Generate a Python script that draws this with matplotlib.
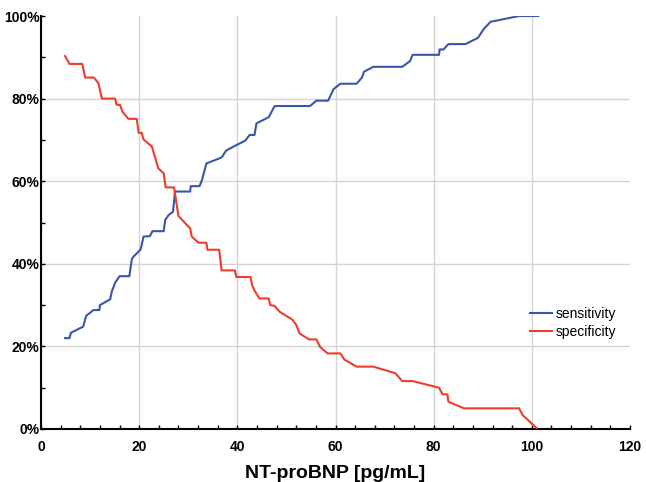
import matplotlib
matplotlib.use("Agg")
import matplotlib.pyplot as plt
from matplotlib.ticker import MultipleLocator, FuncFormatter

plt.rcParams['font.family'] = ['Liberation Sans', 'DejaVu Sans']

# Sensitivity curve (x: NT-proBNP pg/mL, y: %)
sens_x = [4.9, 5.8, 6.1, 8.6, 9.2, 10.7, 11.9, 12.0, 14.1, 14.4, 15.1, 16.0, 18.0, 18.5, 18.8,
          19.5, 20.3, 20.9, 22.2, 22.7, 25.0, 25.3, 26.0, 26.9, 27.3, 30.4, 30.5, 32.3, 32.8,
          33.7, 36.5, 36.9, 37.7, 39.4, 41.6, 42.5, 43.5, 43.9, 46.4, 47.6, 54.8, 56.1, 58.5,
          59.6, 61.0, 64.3, 65.4, 65.8, 67.7, 73.6, 75.2, 75.7, 81.1, 81.2, 82.0, 83.0, 86.5,
          89.0, 90.3, 91.6, 97.4, 101.3]
sens_y = [22.0, 22.0, 23.3, 24.8, 27.4, 28.8, 28.8, 30.0, 31.4, 33.2, 35.4, 37.0, 37.0, 41.1, 41.7,
          42.5, 43.5, 46.6, 46.7, 47.9, 47.9, 50.6, 51.8, 52.6, 57.5, 57.5, 58.8, 58.8, 60.3,
          64.3, 65.6, 65.9, 67.4, 68.5, 69.8, 71.2, 71.2, 74.0, 75.5, 78.2, 78.2, 79.5, 79.5,
          82.3, 83.6, 83.6, 85.1, 86.5, 87.7, 87.7, 89.1, 90.6, 90.6, 91.9, 91.9, 93.2, 93.2,
          94.7, 97.0, 98.6, 100.0, 100.0]

# Specificity curve
spec_x = [4.9, 5.8, 8.4, 9.0, 10.8, 11.7, 12.4, 15.1, 15.4, 16.1, 16.6, 17.8, 19.5, 19.9, 20.5,
          20.9, 22.6, 23.1, 23.9, 25.0, 25.4, 27.1, 28.0, 29.7, 30.4, 30.7, 32.1, 33.7, 33.9,
          36.3, 36.8, 39.5, 39.8, 42.7, 43.0, 43.5, 44.5, 46.4, 46.7, 47.6, 48.6, 51.2, 52.0,
          52.7, 54.6, 56.1, 56.9, 58.4, 61.0, 61.8, 64.3, 67.7, 72.2, 73.6, 75.7, 81.1, 81.8,
          82.8, 83.0, 86.2, 97.4, 98.1, 101.0]
spec_y = [90.3, 88.4, 88.4, 85.1, 85.1, 83.7, 80.0, 80.0, 78.5, 78.5, 76.8, 75.1, 75.1, 71.7, 71.7,
          70.1, 68.4, 66.3, 63.1, 61.9, 58.5, 58.5, 51.6, 49.4, 48.6, 46.6, 45.1, 45.1, 43.4,
          43.4, 38.4, 38.4, 36.8, 36.8, 34.9, 33.5, 31.6, 31.6, 30.0, 29.8, 28.4, 26.5, 25.2,
          23.1, 21.7, 21.7, 19.8, 18.3, 18.3, 16.8, 15.1, 15.1, 13.5, 11.6, 11.6, 10.0, 8.4,
          8.4, 6.6, 5.0, 5.0, 3.4, 0.2]

x_ticks = [0, 20, 40, 60, 80, 100, 120]
y_ticks = [0, 20, 40, 60, 80, 100]

fig = plt.figure(figsize=(6.46, 4.82), dpi=100)
ax = fig.add_axes([41/646, 53/482, (630-41)/646, (429-16)/482])

ax.plot(sens_x, sens_y, color='#3a56a8', lw=1.5, label='sensitivity', zorder=3)
ax.plot(spec_x, spec_y, color='#f23b2c', lw=1.5, label='specificity', zorder=3)

ax.set_xlim(0, 120)
ax.set_ylim(0, 100)
ax.set_xticks(x_ticks)
ax.set_yticks(y_ticks)
ax.xaxis.set_minor_locator(MultipleLocator(4))
ax.yaxis.set_minor_locator(MultipleLocator(10))
ax.yaxis.set_major_formatter(FuncFormatter(lambda v, p: f"{int(v)}%"))

ax.grid(True, which='major', color='#d4d4d4', lw=1.0, zorder=0)
for gl in [ax.yaxis.get_gridlines()[-1], ax.xaxis.get_gridlines()[-1]]:
    gl.set_visible(False)

for s in ['top', 'right']:
    ax.spines[s].set_visible(False)
for s in ['left', 'bottom']:
    ax.spines[s].set_linewidth(1.5)
    ax.spines[s].set_color('black')

ax.tick_params(which='major', direction='in', length=3, width=1, labelsize=10)
ax.tick_params(which='minor', direction='in', length=3, width=1)
ax.tick_params(axis='y', pad=1)
ax.tick_params(axis='x', pad=8)
for lbl in ax.get_xticklabels() + ax.get_yticklabels():
    lbl.set_fontweight('bold')

ax.set_xlabel('NT-proBNP [pg/mL]', fontsize=14, fontweight='bold', labelpad=8)

leg = ax.legend(loc='upper left', bbox_to_anchor=(0.82, 0.31), frameon=False, fontsize=10,
                handlelength=1.6, handletextpad=0.25, labelspacing=0.3, borderaxespad=0)

fig.savefig('out.png', dpi=100)
